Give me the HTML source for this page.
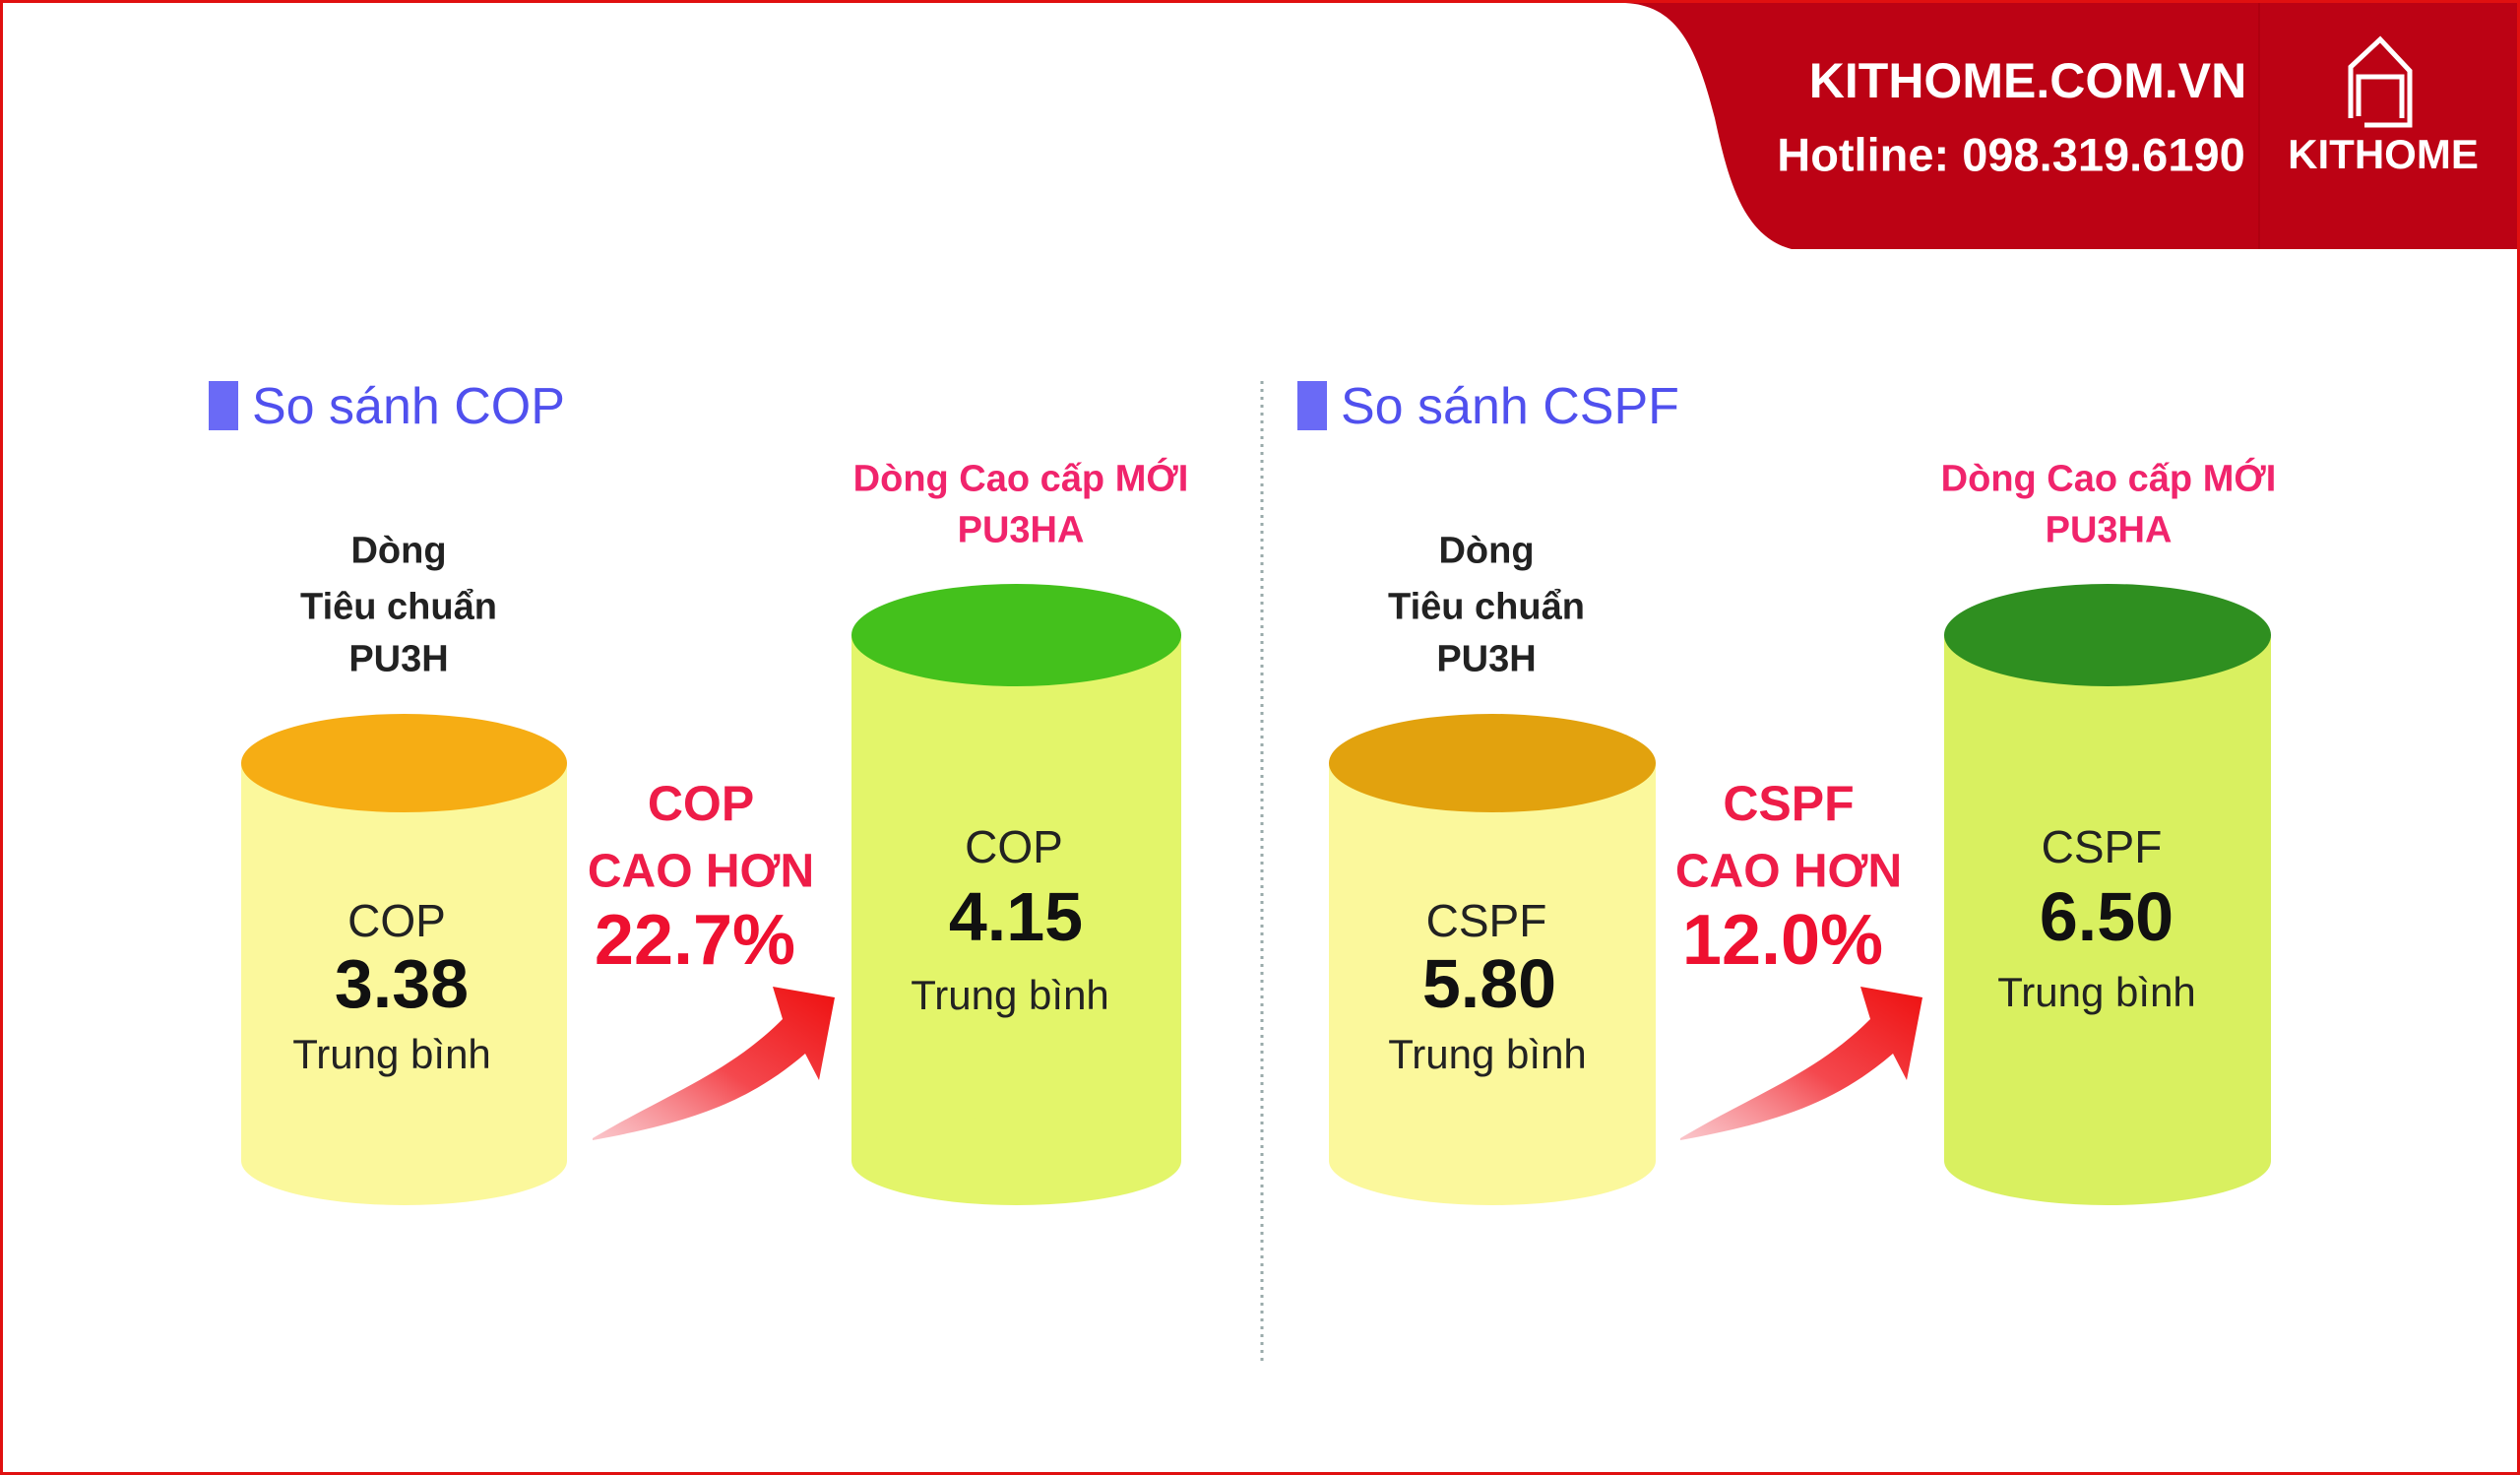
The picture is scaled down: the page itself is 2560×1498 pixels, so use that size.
<!DOCTYPE html>
<html><head><meta charset="utf-8"><style>
html,body{margin:0;padding:0}
body{width:2560px;height:1498px;position:relative;background:#fff;overflow:hidden;font-family:"Liberation Sans",sans-serif}
.t{position:absolute;white-space:nowrap;transform:translate(-50%,-50%);text-align:center}
</style></head><body>
<svg width="2560" height="1498" style="position:absolute;left:0;top:0">
<defs>
<linearGradient id="ar" x1="0" y1="1" x2="1" y2="0">
<stop offset="0" stop-color="#f7a0a8" stop-opacity="0.6"/>
<stop offset="0.5" stop-color="#f4484e"/>
<stop offset="1" stop-color="#ee1010"/>
</linearGradient>
</defs>
<rect x="1.5" y="1.5" width="2557" height="1495" fill="none" stroke="#e01010" stroke-width="3"/>
<path d="M1650,3 L2557,3 L2557,253 L1820,253 C1770,240 1755,180 1742,120 C1722,40 1700,5 1650,3 Z" fill="#bc0214"/>
<line x1="2295" y1="3" x2="2295" y2="253" stroke="#b00010" stroke-width="2"/>
<g fill="none" stroke="#fff" stroke-width="5">
<path d="M2388,120 L2388,68 L2418,40 L2448,72 L2448,127 L2402,127"/>
<path d="M2396,118 L2396,78 L2440,78 L2440,120"/>
</g>
<line x1="1282" y1="387" x2="1282" y2="1384" stroke="#9aa" stroke-width="3" stroke-dasharray="3,5"/>
<rect x="212" y="387" width="30" height="50" fill="#6a6af6"/>
<rect x="1318" y="387" width="30" height="50" fill="#6a6af6"/>
<g>
<rect x="245" y="775" width="331" height="404" fill="#fbf89c"/><ellipse cx="410.5" cy="1179" rx="165.5" ry="45" fill="#fbf89c"/><ellipse cx="410.5" cy="775" rx="165.5" ry="50" fill="#f6ad14"/>
<rect x="865" y="645" width="335" height="534" fill="#e3f56a"/><ellipse cx="1032.5" cy="1179" rx="167.5" ry="45" fill="#e3f56a"/><ellipse cx="1032.5" cy="645" rx="167.5" ry="52" fill="#44c11c"/>
<rect x="1350" y="775" width="332" height="404" fill="#fbf89c"/><ellipse cx="1516" cy="1179" rx="166" ry="45" fill="#fbf89c"/><ellipse cx="1516" cy="775" rx="166" ry="50" fill="#e2a20e"/>
<rect x="1975" y="645" width="332" height="534" fill="#d9f060"/><ellipse cx="2141" cy="1179" rx="166" ry="45" fill="#d9f060"/><ellipse cx="2141" cy="645" rx="166" ry="52" fill="#2f8f20"/>
</g>
<path d="M602,1156 C680,1110 740,1090 795,1035 L785,1002 L848,1013 L832,1097 L818,1070 C760,1120 700,1140 602,1158 Z" fill="url(#ar)"/>
<g transform="translate(1105,0)"><path d="M602,1156 C680,1110 740,1090 795,1035 L785,1002 L848,1013 L832,1097 L818,1070 C760,1120 700,1140 602,1158 Z" fill="url(#ar)"/></g>
</svg>
<div class="t" style="left:2060px;top:82px;color:#fff;font-weight:bold;font-size:50px">KITHOME.COM.VN</div>
<div class="t" style="left:2043px;top:157px;color:#fff;font-weight:bold;font-size:47px">Hotline: 098.319.6190</div>
<div class="t" style="left:2421px;top:157px;color:#fff;font-weight:bold;font-size:42px">KITHOME</div>
<div class="t" style="left:256px;top:413px;color:#5050ee;font-size:52px;transform:translate(0,-50%);">So sánh COP</div>
<div class="t" style="left:1362px;top:413px;color:#5050ee;font-size:52px;transform:translate(0,-50%);">So sánh CSPF</div>

<div class="t" style="left:405px;top:560px;color:#222;font-weight:bold;font-size:38px">Dòng</div>
<div class="t" style="left:405px;top:617px;color:#222;font-weight:bold;font-size:38px">Tiêu chuẩn</div>
<div class="t" style="left:405px;top:670px;color:#222;font-weight:bold;font-size:38px">PU3H</div>
<div class="t" style="left:1510px;top:560px;color:#222;font-weight:bold;font-size:38px">Dòng</div>
<div class="t" style="left:1510px;top:617px;color:#222;font-weight:bold;font-size:38px">Tiêu chuẩn</div>
<div class="t" style="left:1510px;top:670px;color:#222;font-weight:bold;font-size:38px">PU3H</div>

<div class="t" style="left:1037px;top:487px;color:#f0246c;font-weight:bold;font-size:38px">Dòng Cao cấp MỚI</div>
<div class="t" style="left:1037px;top:539px;color:#f0246c;font-weight:bold;font-size:38px">PU3HA</div>
<div class="t" style="left:2142px;top:487px;color:#f0246c;font-weight:bold;font-size:38px">Dòng Cao cấp MỚI</div>
<div class="t" style="left:2142px;top:539px;color:#f0246c;font-weight:bold;font-size:38px">PU3HA</div>

<div class="t" style="left:403px;top:935px;color:#222;font-size:46px">COP</div>
<div class="t" style="left:408px;top:999px;color:#111;font-weight:bold;font-size:70px">3.38</div>
<div class="t" style="left:398px;top:1071px;color:#222;font-size:42px">Trung bình</div>
<div class="t" style="left:1030px;top:860px;color:#222;font-size:46px">COP</div>
<div class="t" style="left:1032px;top:931px;color:#111;font-weight:bold;font-size:70px">4.15</div>
<div class="t" style="left:1026px;top:1011px;color:#222;font-size:42px">Trung bình</div>
<div class="t" style="left:1510px;top:935px;color:#222;font-size:46px">CSPF</div>
<div class="t" style="left:1513px;top:999px;color:#111;font-weight:bold;font-size:70px">5.80</div>
<div class="t" style="left:1511px;top:1071px;color:#222;font-size:42px">Trung bình</div>
<div class="t" style="left:2135px;top:860px;color:#222;font-size:46px">CSPF</div>
<div class="t" style="left:2140px;top:931px;color:#111;font-weight:bold;font-size:70px">6.50</div>
<div class="t" style="left:2130px;top:1008px;color:#222;font-size:42px">Trung bình</div>

<div class="t" style="left:712px;top:816px;color:#ee1c48;font-weight:bold;font-size:50px">COP</div>
<div class="t" style="left:712px;top:885px;color:#ee1c48;font-weight:bold;font-size:48px">CAO HƠN</div>
<div class="t" style="left:706px;top:955px;color:#ee1030;font-weight:bold;font-size:72px">22.7%</div>
<div class="t" style="left:1817px;top:816px;color:#ee1c48;font-weight:bold;font-size:50px">CSPF</div>
<div class="t" style="left:1817px;top:885px;color:#ee1c48;font-weight:bold;font-size:48px">CAO HƠN</div>
<div class="t" style="left:1811px;top:955px;color:#ee1030;font-weight:bold;font-size:72px">12.0%</div>
</body></html>
